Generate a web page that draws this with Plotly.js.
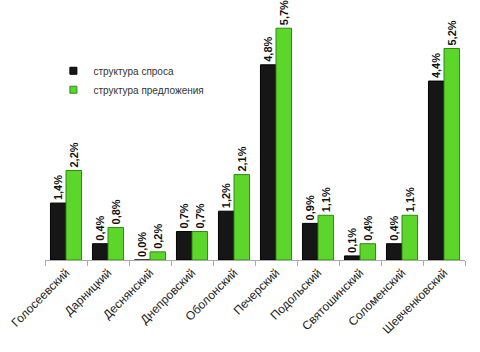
<!DOCTYPE html>
<html>
<head>
<meta charset="utf-8">
<script src="https://cdn.plot.ly/plotly-3.0.1.min.js"></script>
<style>html,body{margin:0;padding:0;background:#fff;}#chart{width:480px;height:352px;}</style>
</head>
<body>
<div id="chart"></div>
<script>
const categories = ["Голосеевский","Дарницкий","Деснянский","Днепровский","Оболонский","Печерский","Подольский","Святошинский","Соломенский","Шевченковский"];
const demand = [1.4, 0.4, 0.0, 0.7, 1.2, 4.8, 0.9, 0.1, 0.4, 4.4];
const supply = [2.2, 0.8, 0.2, 0.7, 2.1, 5.7, 1.1, 0.4, 1.1, 5.2];
const seriesNames = ["структура спроса", "структура предложения"];
const colors = ["#161616", "#5cd62a"];
const edges = ["#000000", "#2e8a12"];

const labelFont = {family: "Liberation Sans, Arial, sans-serif", size: 11, color: "#111"};

const series = [demand, supply];
const traces = [];
series.forEach((vals, i) => {
  traces.push({
    type: "bar", name: seriesNames[i], x: categories, y: vals, showlegend: false,
    marker: {color: colors[i], line: {color: edges[i], width: 1}},
    texttemplate: "<b>%{y:.1f}%</b>", textposition: "outside", textangle: -90,
    constraintext: "none",
    textfont: labelFont, cliponaxis: false, hoverinfo: "skip"
  });
});
series.forEach((vals, i) => {
  traces.push({
    type: "scatter", mode: "markers", name: seriesNames[i], x: [null], y: [null],
    marker: {symbol: "square", size: 7, color: colors[i], line: {color: edges[i], width: 1}},
    showlegend: true, hoverinfo: "skip"
  });
});

const layout = {
  width: 480, height: 352,
  margin: {l: 45, r: 15, t: 16, b: 92},
  paper_bgcolor: "#fff", plot_bgcolor: "#fff",
  separators: ", ",
  barmode: "group", bargap: 0.26, bargroupgap: 0,
  showlegend: true,
  legend: {
    x: 0.02, y: 0.835, xanchor: "left", yanchor: "top",
    font: {family: "Liberation Sans, Arial, sans-serif", size: 10, color: "#333"},
    bgcolor: "rgba(0,0,0,0)", itemwidth: 30, tracegroupgap: 0
  },
  xaxis: {
    showline: true, linecolor: "#aaa", linewidth: 1,
    ticks: "outside", tickson: "boundaries", ticklen: 5, tickcolor: "#aaa",
    tickangle: -45,
    tickfont: {family: "Liberation Sans, Arial, sans-serif", size: 12, color: "#222"},
    showgrid: false, zeroline: false
  },
  yaxis: {
    range: [0, 6], visible: false, showgrid: false, zeroline: false
  }
};

Plotly.newPlot("chart", traces, layout, {staticPlot: true, displayModeBar: false});
</script>
</body>
</html>
